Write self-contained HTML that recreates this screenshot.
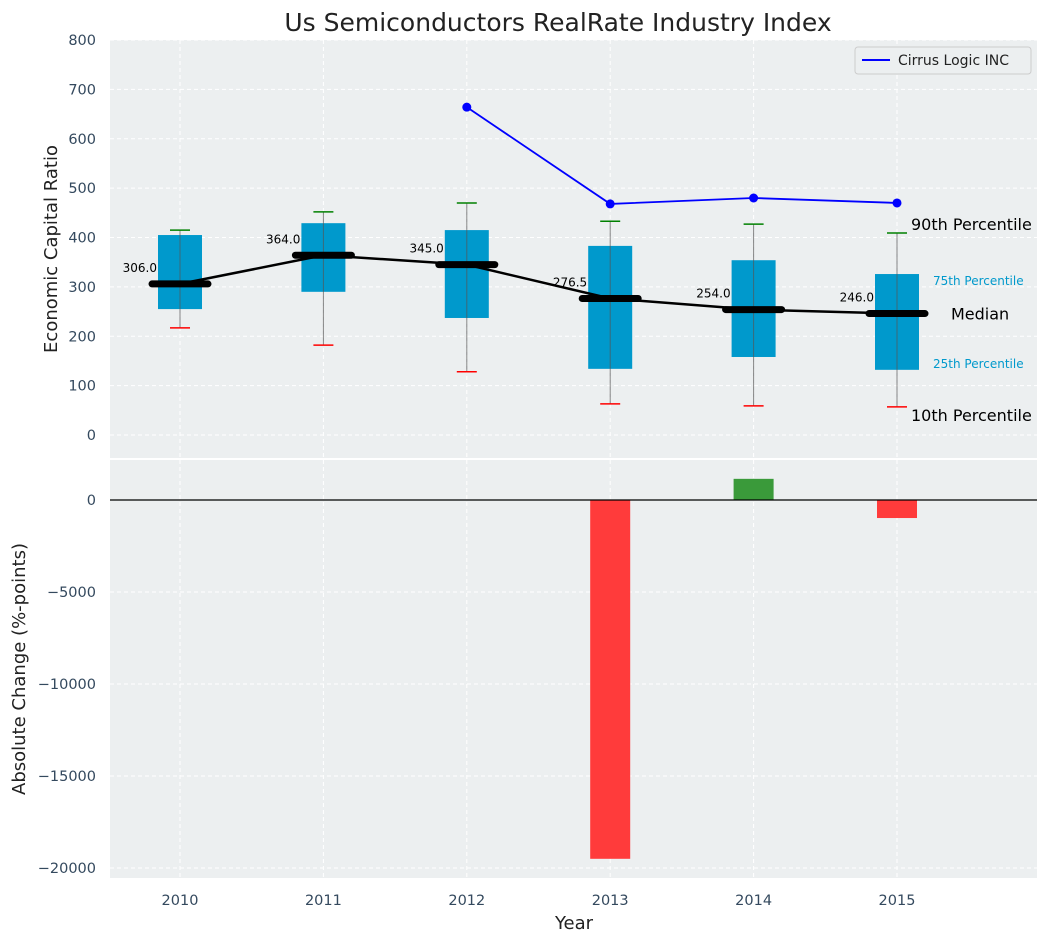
<!DOCTYPE html>
<html><head><meta charset="utf-8"><style>
body{margin:0;background:#fff;}
svg{font-family:"DejaVu Sans","Liberation Sans",sans-serif;}
</style></head><body>
<svg id="chart" width="1048" height="942" xmlns="http://www.w3.org/2000/svg">
<text x="558" y="31" font-size="25" text-anchor="middle" fill="#222">Us Semiconductors RealRate Industry Index</text>
<g id="topPanel"></g><g id="botPanel"></g>
</svg>
<script>
const years = [2010, 2011, 2012, 2013, 2014, 2015];
const q1 = [255, 290, 237, 134, 158, 132];
const q3 = [405, 429, 415, 383, 354, 326];
const medians = [306.0, 364.0, 345.0, 276.5, 254.0, 246.0];
const p90 = [415, 452, 470, 433, 427, 409];
const p10 = [217, 182, 128, 63, 59, 57];
const companyYears = [2012, 2013, 2014, 2015];
const companyValues = [664, 468, 480, 470];
const changeYears = [2013, 2014, 2015];
const changeValues = [-19500, 1150, -980];
const topTicks = [0, 100, 200, 300, 400, 500, 600, 700, 800];
const botTicks = [0, -5000, -10000, -15000, -20000];

const NS = 'http://www.w3.org/2000/svg';
function mk(parent, tag, attrs, text) {
  const el = document.createElementNS(NS, tag);
  for (const k in attrs) el.setAttribute(k, attrs[k]);
  if (text !== undefined) el.textContent = text;
  parent.appendChild(el); return el;
}
const L = 110, R = 1037;
const x = v => 180 + (v - 2010) * 143.4;
const yT = v => 435 - v * 0.49375;
const yB = v => 500 - v * 0.0184;
const topG = document.getElementById('topPanel'), botG = document.getElementById('botPanel');
let e;

e = mk(topG, 'rect', {x: L, y: 40, width: R - L, height: 418, fill: '#eceff0'});
 
topTicks.forEach(t => {
  mk(topG, 'line', {x1: L, x2: R, y1: yT(t), y2: yT(t), stroke: '#fff', 'stroke-dasharray': '4,3'});
  e = mk(topG, 'text', {x: 96, y: yT(t) + 5, 'font-size': 14.5, 'text-anchor': 'end', fill: '#34495e'}, t);
   
});
years.forEach(yr => mk(topG, 'line', {x1: x(yr), x2: x(yr), y1: 40, y2: 458, stroke: '#fff', 'stroke-dasharray': '4,3'}));
e = mk(topG, 'text', {x: 57, y: 249, 'font-size': 18, 'text-anchor': 'middle', fill: '#222', transform: 'rotate(-90 57 249)'}, 'Economic Capital Ratio');
 

years.forEach((yr, i) => {
  const cx = x(yr), hw = 22;
  e = mk(topG, 'rect', {x: cx - hw, y: yT(q3[i]), width: 2 * hw, height: yT(q1[i]) - yT(q3[i]), fill: '#0099cc'});
   
  mk(topG, 'line', {x1: cx, x2: cx, y1: yT(p90[i]), y2: yT(p10[i]), stroke: '#555', 'stroke-width': 1, opacity: 0.7});
  e = mk(topG, 'line', {x1: cx - 10, x2: cx + 10, y1: yT(p90[i]), y2: yT(p90[i]), stroke: 'green', 'stroke-width': 1.5});
   
  e = mk(topG, 'line', {x1: cx - 10, x2: cx + 10, y1: yT(p10[i]), y2: yT(p10[i]), stroke: 'red', 'stroke-width': 1.5});
   
});
let pts = years.map((yr, i) => x(yr) + ',' + yT(medians[i])).join(' ');
e = mk(topG, 'polyline', {points: pts, fill: 'none', stroke: '#000', 'stroke-width': 2.5});
 
years.forEach((yr, i) => {
  e = mk(topG, 'line', {x1: x(yr) - 28, x2: x(yr) + 28, y1: yT(medians[i]), y2: yT(medians[i]), stroke: '#000', 'stroke-width': 7, 'stroke-linecap': 'round'});
   
  e = mk(topG, 'text', {x: x(yr) - 23, y: yT(medians[i]) - 12, 'font-size': 12, 'text-anchor': 'end', fill: '#000'}, medians[i].toFixed(1));
   
});
pts = companyYears.map((yr, i) => x(yr) + ',' + yT(companyValues[i])).join(' ');
e = mk(topG, 'polyline', {points: pts, fill: 'none', stroke: 'blue', 'stroke-width': 1.8});
 
companyYears.forEach((yr, i) => {
  e = mk(topG, 'circle', {cx: x(yr), cy: yT(companyValues[i]), r: 4.5, fill: 'blue'});
   
});
const li = years.length - 1, ax = x(years[li]);
[[p90[li], '90th Percentile', 16, '#000', 14, -3], [q3[li], '75th Percentile', 12, '#0099cc', 36, 11],
 [medians[li], 'Median', 16, '#000', 54, 6], [q1[li], '25th Percentile', 12, '#0099cc', 36, -2],
 [p10[li], '10th Percentile', 16, '#000', 14, 14]].forEach(a => {
  e = mk(topG, 'text', {x: ax + a[4], y: yT(a[0]) + a[5], 'font-size': a[2], fill: a[3]}, a[1]);
   
});
e = mk(topG, 'g', {});
 
mk(e, 'rect', {x: 855, y: 47, width: 176, height: 27, fill: '#eceff0', stroke: '#ccc', rx: 3});
mk(e, 'line', {x1: 862, x2: 890, y1: 60, y2: 60, stroke: 'blue', 'stroke-width': 2});
mk(e, 'text', {x: 898, y: 65, 'font-size': 14, fill: '#222'}, 'Cirrus Logic INC');

e = mk(botG, 'rect', {x: L, y: 460, width: R - L, height: 418, fill: '#eceff0'});
 
botTicks.forEach(t => {
  mk(botG, 'line', {x1: L, x2: R, y1: yB(t), y2: yB(t), stroke: '#fff', 'stroke-dasharray': '4,3'});
  e = mk(botG, 'text', {x: 96, y: yB(t) + 5, 'font-size': 14.5, 'text-anchor': 'end', fill: '#34495e'}, t === 0 ? '0' : '\u2212' + Math.abs(t));
   
});
years.forEach(yr => {
  mk(botG, 'line', {x1: x(yr), x2: x(yr), y1: 460, y2: 878, stroke: '#fff', 'stroke-dasharray': '4,3'});
  e = mk(botG, 'text', {x: x(yr), y: 905, 'font-size': 14.5, 'text-anchor': 'middle', fill: '#34495e'}, yr);
   
});
changeYears.forEach((yr, i) => {
  const v = changeValues[i];
  e = mk(botG, 'rect', {x: x(yr) - 20, y: Math.min(yB(0), yB(v)), width: 40, height: Math.abs(yB(v) - yB(0)), fill: v < 0 ? '#ff3b3b' : '#3a9a3a'});
   
});
mk(botG, 'line', {x1: L, x2: R, y1: yB(0), y2: yB(0), stroke: '#000', 'stroke-width': 1.2});
e = mk(botG, 'text', {x: 25, y: 669, 'font-size': 18, 'text-anchor': 'middle', fill: '#222', transform: 'rotate(-90 25 669)'}, 'Absolute Change (%-points)');
 
e = mk(botG, 'text', {x: 574, y: 929, 'font-size': 18, 'text-anchor': 'middle', fill: '#222'}, 'Year');
 
</script>
</body></html>
